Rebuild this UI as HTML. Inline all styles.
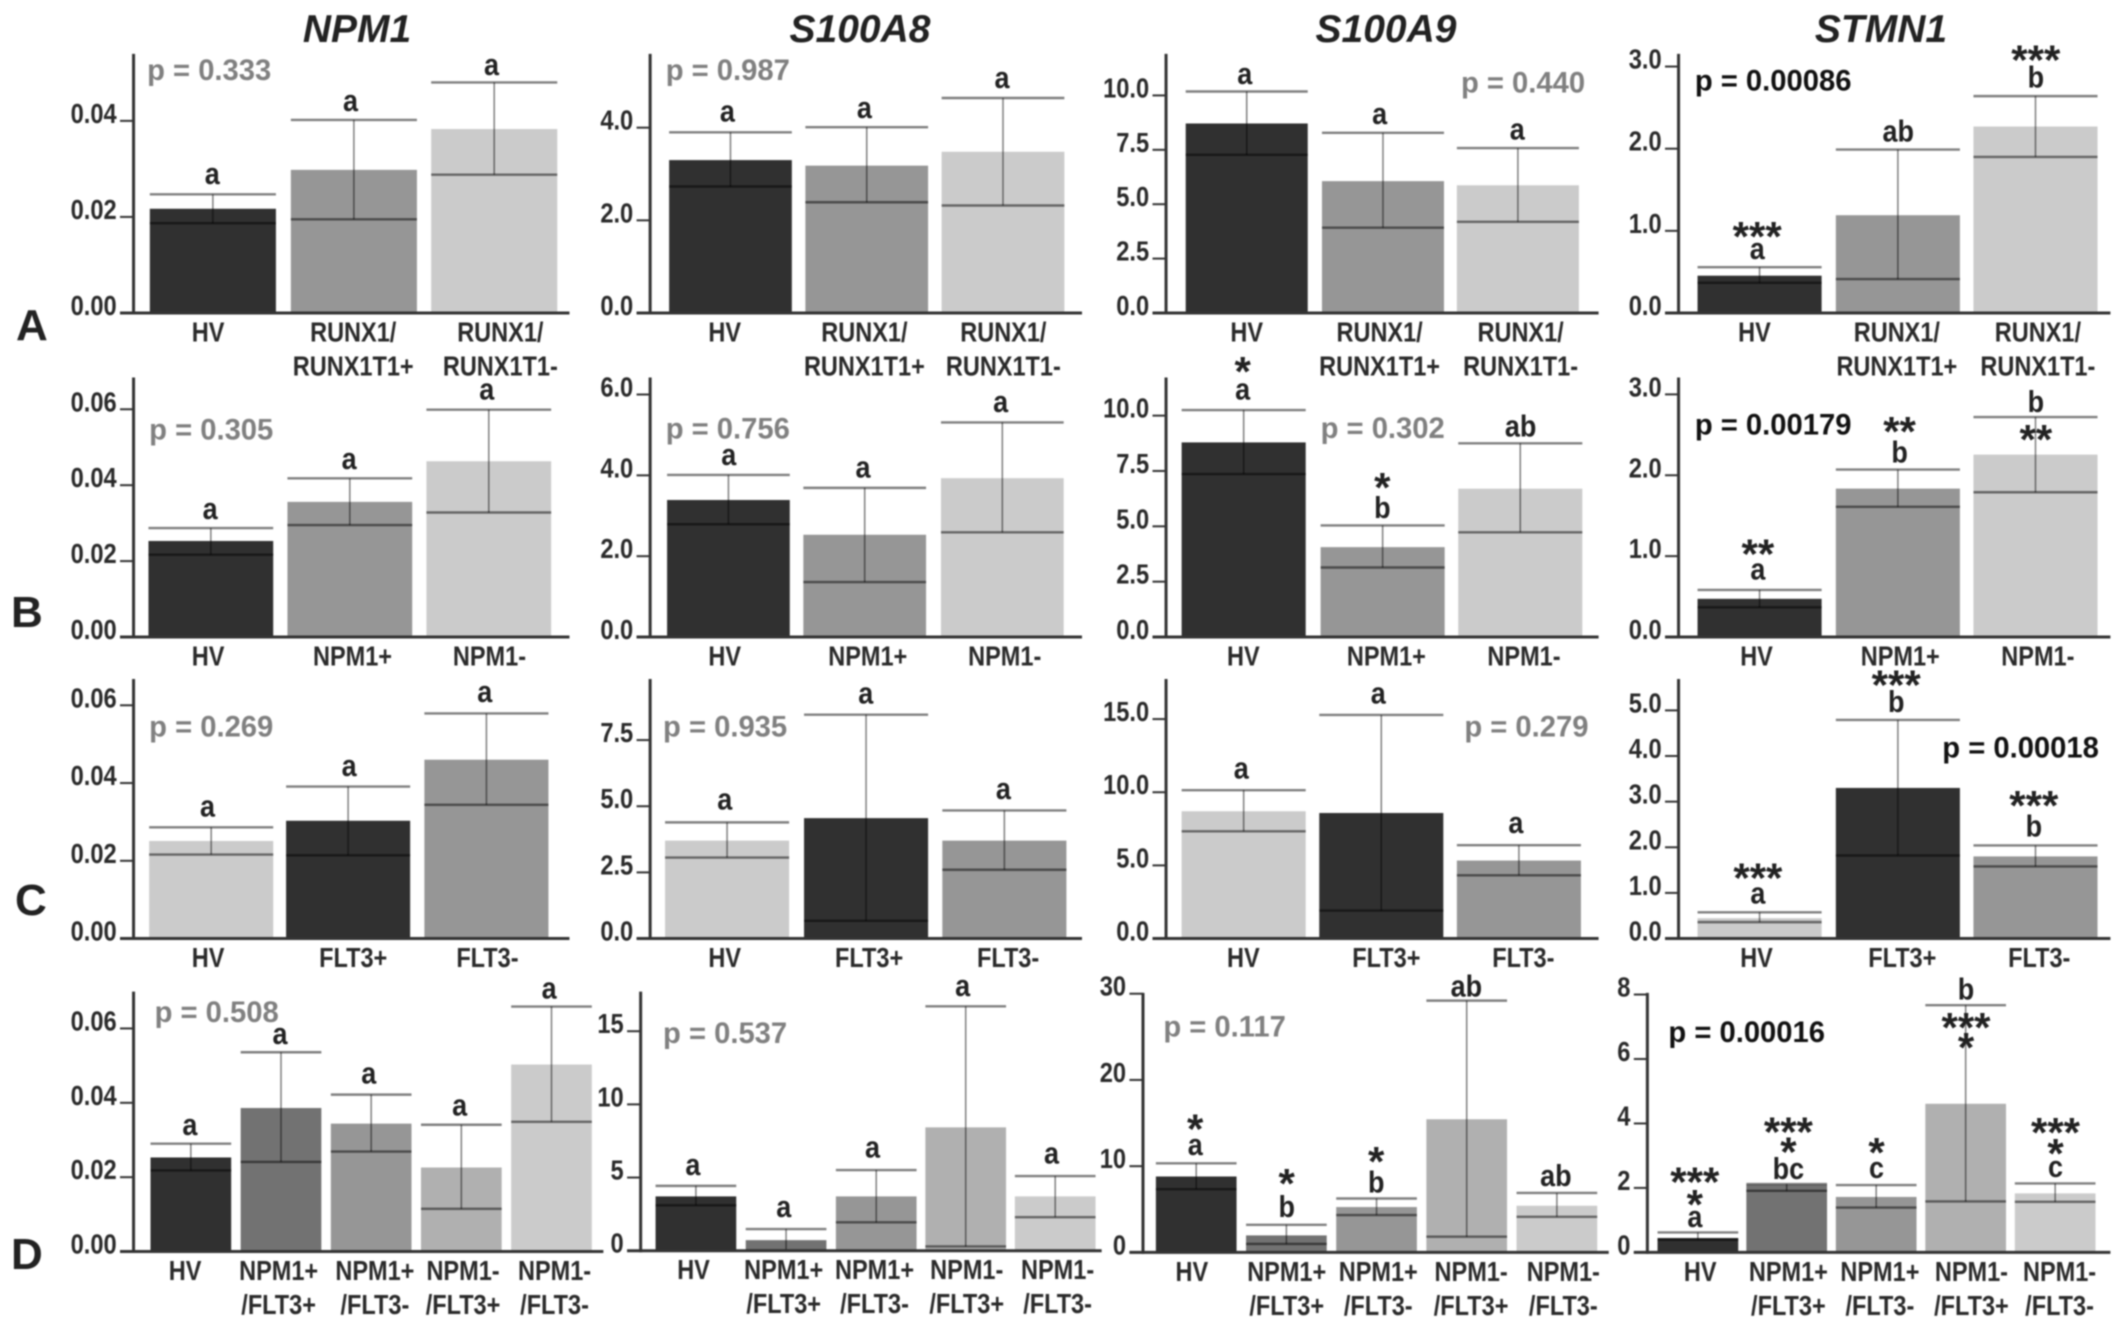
<!DOCTYPE html>
<html lang="en">
<head>
<meta charset="utf-8">
<title>Gene expression bar charts</title>
<style>
html,body{margin:0;padding:0;background:#fff;}
#figure{display:block;width:2126px;height:1330px;background:#fff;filter:blur(0.7px);}
text{font-family:"Liberation Sans",Arial,sans-serif;font-weight:bold;}
</style>
</head>
<body>
<svg id="figure" xmlns="http://www.w3.org/2000/svg" width="2126" height="1330" viewBox="0 0 2126 1330">
  <rect x="0" y="0" width="2126" height="1330" fill="#fff"/>
  <text x="357" y="42" font-size="39" font-style="italic" text-anchor="middle" fill="#222">NPM1</text>
  <text x="860" y="42" font-size="39" font-style="italic" text-anchor="middle" fill="#222">S100A8</text>
  <text x="1386" y="42" font-size="39" font-style="italic" text-anchor="middle" fill="#222">S100A9</text>
  <text x="1881" y="42" font-size="39" font-style="italic" text-anchor="middle" fill="#222">STMN1</text>
  <text x="16" y="340" font-size="44" fill="#222">A</text>
  <text x="11" y="627" font-size="44" fill="#222">B</text>
  <text x="15" y="915" font-size="44" fill="#222">C</text>
  <text x="11" y="1269" font-size="44" fill="#222">D</text>
</svg>
<script>
// ---- categories ----
const catsA = ['HV', 'RUNX1/|RUNX1T1+', 'RUNX1/|RUNX1T1-'];
const catsB = ['HV', 'NPM1+', 'NPM1-'];
const catsC = ['HV', 'FLT3+', 'FLT3-'];
const catsD = ['HV', 'NPM1+|/FLT3+', 'NPM1+|/FLT3-', 'NPM1-|/FLT3+', 'NPM1-|/FLT3-'];

// ---- row A ----
const npm1A_means = [0.0217, 0.0298, 0.0383];
const npm1A_upper = [0.0247, 0.0402, 0.0480];
const npm1A_lower = [0.0187, 0.0195, 0.0288];
const npm1A_ticks = [0, 0.02, 0.04];
const npm1A_tickLabels = ['0.00', '0.02', '0.04'];
const npm1A_letters = ['a', 'a', 'a'];
const npm1A_stars = [[], [], []];

const s100a8A_means = [3.30, 3.18, 3.48];
const s100a8A_upper = [3.90, 4.01, 4.64];
const s100a8A_lower = [2.73, 2.39, 2.32];
const s100a8A_ticks = [0, 2, 4];
const s100a8A_tickLabels = ['0.0', '2.0', '4.0'];
const s100a8A_letters = ['a', 'a', 'a'];
const s100a8A_stars = [[], [], []];

const s100a9A_means = [8.71, 6.06, 5.87];
const s100a9A_upper = [10.18, 8.28, 7.58];
const s100a9A_lower = [7.27, 3.92, 4.19];
const s100a9A_ticks = [0, 2.5, 5, 7.5, 10];
const s100a9A_tickLabels = ['0.0', '2.5', '5.0', '7.5', '10.0'];
const s100a9A_letters = ['a', 'a', 'a'];
const s100a9A_stars = [[], [], []];

const stmn1A_means = [0.454, 1.19, 2.27];
const stmn1A_upper = [0.558, 1.99, 2.64];
const stmn1A_lower = [0.367, 0.413, 1.90];
const stmn1A_ticks = [0, 1, 2, 3];
const stmn1A_tickLabels = ['0.0', '1.0', '2.0', '3.0'];
const stmn1A_letters = ['a', 'ab', 'b'];
const stmn1A_stars = [['***'], [], ['***']];

// ---- row B ----
const npm1B_means = [0.0253, 0.0356, 0.0463];
const npm1B_upper = [0.0287, 0.0418, 0.0599];
const npm1B_lower = [0.0217, 0.0295, 0.0328];
const npm1B_ticks = [0, 0.02, 0.04, 0.06];
const npm1B_tickLabels = ['0.00', '0.02', '0.04', '0.06'];
const npm1B_letters = ['a', 'a', 'a'];
const npm1B_stars = [[], [], []];

const s100a8B_means = [3.39, 2.53, 3.93];
const s100a8B_upper = [4.01, 3.69, 5.31];
const s100a8B_lower = [2.79, 1.36, 2.59];
const s100a8B_ticks = [0, 2, 4, 6];
const s100a8B_tickLabels = ['0.0', '2.0', '4.0', '6.0'];
const s100a8B_letters = ['a', 'a', 'a'];
const s100a8B_stars = [[], [], []];

const s100a9B_means = [8.79, 4.06, 6.70];
const s100a9B_upper = [10.25, 5.04, 8.75];
const s100a9B_lower = [7.36, 3.14, 4.73];
const s100a9B_ticks = [0, 2.5, 5, 7.5, 10];
const s100a9B_tickLabels = ['0.0', '2.5', '5.0', '7.5', '10.0'];
const s100a9B_letters = ['a', 'b', 'ab'];
const s100a9B_stars = [['*'], ['*'], []];

const stmn1B_means = [0.472, 1.835, 2.255];
const stmn1B_upper = [0.582, 2.07, 2.72];
const stmn1B_lower = [0.367, 1.61, 1.79];
const stmn1B_ticks = [0, 1, 2, 3];
const stmn1B_tickLabels = ['0.0', '1.0', '2.0', '3.0'];
const stmn1B_letters = ['a', 'b', 'b'];
const stmn1B_stars = [['**'], ['**'], ['**']];

// ---- row C ----
const npm1C_means = [0.0251, 0.0303, 0.0460];
const npm1C_upper = [0.0286, 0.0391, 0.0579];
const npm1C_lower = [0.0216, 0.0214, 0.0344];
const npm1C_ticks = [0, 0.02, 0.04, 0.06];
const npm1C_tickLabels = ['0.00', '0.02', '0.04', '0.06'];
const npm1C_letters = ['a', 'a', 'a'];
const npm1C_stars = [[], [], []];

const s100a8C_means = [3.70, 4.55, 3.70];
const s100a8C_upper = [4.39, 8.46, 4.84];
const s100a8C_lower = [3.06, 0.67, 2.60];
const s100a8C_ticks = [0, 2.5, 5, 7.5];
const s100a8C_tickLabels = ['0.0', '2.5', '5.0', '7.5'];
const s100a8C_letters = ['a', 'a', 'a'];
const s100a8C_stars = [[], [], []];

const s100a9C_means = [8.70, 8.58, 5.33];
const s100a9C_upper = [10.14, 15.28, 6.38];
const s100a9C_lower = [7.33, 1.91, 4.32];
const s100a9C_ticks = [0, 5, 10, 15];
const s100a9C_tickLabels = ['0.0', '5.0', '10.0', '15.0'];
const s100a9C_letters = ['a', 'a', 'a'];
const s100a9C_stars = [[], [], []];

const stmn1C_means = [0.446, 3.30, 1.80];
const stmn1C_upper = [0.576, 4.79, 2.04];
const stmn1C_lower = [0.36, 1.82, 1.58];
const stmn1C_ticks = [0, 1, 2, 3, 4, 5];
const stmn1C_tickLabels = ['0.0', '1.0', '2.0', '3.0', '4.0', '5.0'];
const stmn1C_letters = ['a', 'b', 'b'];
const stmn1C_stars = [['***'], ['***'], ['***']];

// ---- row D ----
const npm1D_means = [0.0253, 0.0386, 0.0344, 0.0226, 0.0503];
const npm1D_upper = [0.0290, 0.0536, 0.0422, 0.0341, 0.0659];
const npm1D_lower = [0.0218, 0.0241, 0.0269, 0.0115, 0.0349];
const npm1D_ticks = [0, 0.02, 0.04, 0.06];
const npm1D_tickLabels = ['0.00', '0.02', '0.04', '0.06'];
const npm1D_letters = ['a', 'a', 'a', 'a', 'a'];
const npm1D_stars = [[], [], [], [], []];

const s100a8D_means = [3.71, 0.72, 3.71, 8.43, 3.71];
const s100a8D_upper = [4.43, 1.48, 5.51, 16.7, 5.10];
const s100a8D_lower = [3.10, 0.02, 1.94, 0.29, 2.29];
const s100a8D_ticks = [0, 5, 10, 15];
const s100a8D_tickLabels = ['0', '5', '10', '15'];
const s100a8D_letters = ['a', 'a', 'a', 'a', 'a'];
const s100a8D_stars = [[], [], [], [], []];

const s100a9D_means = [8.80, 1.97, 5.26, 15.44, 5.41];
const s100a9D_upper = [10.33, 3.20, 6.25, 29.2, 6.89];
const s100a9D_lower = [7.33, 0.98, 4.33, 1.82, 4.13];
const s100a9D_ticks = [0, 10, 20, 30];
const s100a9D_tickLabels = ['0', '10', '20', '30'];
const s100a9D_letters = ['a', 'b', 'b', 'ab', 'ab'];
const s100a9D_stars = [['*'], ['*'], ['*'], [], []];

const stmn1D_means = [0.447, 2.10, 1.72, 4.61, 1.83];
const stmn1D_upper = [0.618, 2.12, 2.09, 7.67, 2.14];
const stmn1D_lower = [0.39, 1.91, 1.39, 1.58, 1.57];
const stmn1D_ticks = [0, 2, 4, 6, 8];
const stmn1D_tickLabels = ['0', '2', '4', '6', '8'];
const stmn1D_letters = ['a', 'bc', 'c', 'b', 'c'];
const stmn1D_stars = [['***', '*'], ['***', '*'], ['*'], ['***', '*'], ['***', '*']];

// ---- layout (measured in crop units, converted below) ----
const KX = 1063 / 1568, KY = 665 / 1568, QW = 1063, QH = 665;
const DARK = '#303030', MID = '#969696', LIGHT = '#cbcbcb', DMID = '#727272', LMID = '#b0b0b0';
const shadesAB = [DARK, MID, LIGHT];
const shadesC = [LIGHT, DARK, MID];
const shadesD = [DARK, DMID, MID, LMID, LIGHT];

const panels = [
  {id:'npm1-a', qx:0, qy:0, ax:197, end:840, y0:738, top:127, unit:11325, barL:[221,429,636], barW:186, cats:catsA, shades:shadesAB,
   means:npm1A_means, upper:npm1A_upper, lower:npm1A_lower, ticks:npm1A_ticks, tickLabels:npm1A_tickLabels, letters:npm1A_letters, stars:npm1A_stars,
   catX:[307,521,738], letX:[313,517,725], letDy:[-43,-40,-37], starDy:[[],[],[]], p:'p = 0.333', sig:false, pX:217, pY:167},
  {id:'s100a8-a', qx:0, qy:0, ax:959, end:1596, y0:738, top:127, unit:109.25, barL:[987,1188,1389], barW:181, cats:catsA, shades:shadesAB,
   means:s100a8A_means, upper:s100a8A_upper, lower:s100a8A_lower, ticks:s100a8A_ticks, tickLabels:s100a8A_tickLabels, letters:s100a8A_letters, stars:s100a8A_stars,
   catX:[1069,1275,1480], letX:[1073,1275,1478], letDy:[-44,-40,-43], starDy:[[],[],[]], p:'p = 0.987', sig:false, pX:982, pY:167},
  {id:'s100a9-a', qx:1, qy:0, ax:152, end:790, y0:738, top:127, unit:51.3, barL:[181,382,581], barW:180, cats:catsA, shades:shadesAB,
   means:s100a9A_means, upper:s100a9A_upper, lower:s100a9A_lower, ticks:s100a9A_ticks, tickLabels:s100a9A_tickLabels, letters:s100a9A_letters, stars:s100a9A_stars,
   catX:[271,467,675], letX:[268,467,670], letDy:[-36,-40,-39], starDy:[[],[],[]], p:'p = 0.440', sig:false, pX:587, pY:197},
  {id:'stmn1-a', qx:1, qy:0, ax:908, end:1545, y0:738, top:127, unit:193.7, barL:[936,1140,1343], barW:183, cats:catsA, shades:shadesAB,
   means:stmn1A_means, upper:stmn1A_upper, lower:stmn1A_lower, ticks:stmn1A_ticks, tickLabels:stmn1A_tickLabels, letters:stmn1A_letters, stars:stmn1A_stars,
   catX:[1020,1230,1438], letX:[1024,1232,1435], letDy:[-38,-43,-44], starDy:[[-87],[],[-99]], p:'p = 0.00086', sig:true, pX:932, pY:192},

  {id:'npm1-b', qx:0, qy:0, ax:197, end:840, y0:1502, top:890, unit:8950, barL:[219,424,629], barW:184, cats:catsB, shades:shadesAB,
   means:npm1B_means, upper:npm1B_upper, lower:npm1B_lower, ticks:npm1B_ticks, tickLabels:npm1B_tickLabels, letters:npm1B_letters, stars:npm1B_stars,
   catX:[307,520,722], letX:[310,515,718], letDy:[-40,-41,-43], starDy:[[],[],[]], p:'p = 0.305', sig:false, pX:220, pY:1015},
  {id:'s100a8-b', qx:0, qy:0, ax:959, end:1596, y0:1502, top:890, unit:95.3, barL:[984,1185,1388], barW:181, cats:catsB, shades:shadesAB,
   means:s100a8B_means, upper:s100a8B_upper, lower:s100a8B_lower, ticks:s100a8B_ticks, tickLabels:s100a8B_tickLabels, letters:s100a8B_letters, stars:s100a8B_stars,
   catX:[1069,1280,1482], letX:[1075,1273,1476], letDy:[-42,-43,-43], starDy:[[],[],[]], p:'p = 0.756', sig:false, pX:982, pY:1013},
  {id:'s100a9-b', qx:1, qy:0, ax:152, end:790, y0:1502, top:890, unit:52.2, barL:[175,380,583], barW:183, cats:catsB, shades:shadesAB,
   means:s100a9B_means, upper:s100a9B_upper, lower:s100a9B_lower, ticks:s100a9B_ticks, tickLabels:s100a9B_tickLabels, letters:s100a9B_letters, stars:s100a9B_stars,
   catX:[266,477,680], letX:[265,471,675], letDy:[-44,-41,-40], starDy:[[-105],[-104],[]], p:'p = 0.302', sig:false, pX:380, pY:1012},
  {id:'stmn1-b', qx:1, qy:0, ax:908, end:1545, y0:1502, top:890, unit:190.7, barL:[936,1140,1343], barW:183, cats:catsB, shades:shadesAB,
   means:stmn1B_means, upper:stmn1B_upper, lower:stmn1B_lower, ticks:stmn1B_ticks, tickLabels:stmn1B_tickLabels, letters:stmn1B_letters, stars:stmn1B_stars,
   catX:[1023,1235,1438], letX:[1025,1234,1435], letDy:[-43,-40,-36], starDy:[[-99],[-104],[39]], p:'p = 0.00179', sig:true, pX:932, pY:1003},

  {id:'npm1-c', qx:0, qy:1, ax:197, end:840, y0:645, top:33, unit:9167, barL:[220,422,626], barW:183, cats:catsC, shades:shadesC,
   means:npm1C_means, upper:npm1C_upper, lower:npm1C_lower, ticks:npm1C_ticks, tickLabels:npm1C_tickLabels, letters:npm1C_letters, stars:npm1C_stars,
   catX:[307,521,719], letX:[306,515,715], letDy:[-45,-44,-46], starDy:[[],[],[]], p:'p = 0.269', sig:false, pX:220, pY:147},
  {id:'s100a8-c', qx:0, qy:1, ax:959, end:1596, y0:645, top:33, unit:62.4, barL:[981,1186,1390], barW:183, cats:catsC, shades:shadesC,
   means:s100a8C_means, upper:s100a8C_upper, lower:s100a8C_lower, ticks:s100a8C_ticks, tickLabels:s100a8C_tickLabels, letters:s100a8C_letters, stars:s100a8C_stars,
   catX:[1069,1282,1487], letX:[1069,1277,1480], letDy:[-49,-45,-46], starDy:[[],[],[]], p:'p = 0.935', sig:false, pX:978, pY:147},
  {id:'s100a9-c', qx:1, qy:1, ax:152, end:790, y0:645, top:33, unit:34.5, barL:[175,378,581], barW:183, cats:catsC, shades:shadesC,
   means:s100a9C_means, upper:s100a9C_upper, lower:s100a9C_lower, ticks:s100a9C_ticks, tickLabels:s100a9C_tickLabels, letters:s100a9C_letters, stars:s100a9C_stars,
   catX:[266,477,679], letX:[263,465,668], letDy:[-47,-46,-48], starDy:[[],[],[]], p:'p = 0.279', sig:false, pX:592, pY:147},
  {id:'stmn1-c', qx:1, qy:1, ax:908, end:1545, y0:645, top:33, unit:107.6, barL:[936,1140,1343], barW:183, cats:catsC, shades:shadesC,
   means:stmn1C_means, upper:stmn1C_upper, lower:stmn1C_lower, ticks:stmn1C_ticks, tickLabels:stmn1C_tickLabels, letters:stmn1C_letters, stars:stmn1C_stars,
   catX:[1023,1238,1440], letX:[1025,1229,1432], letDy:[-40,-42,-45], starDy:[[-95],[-97],[-108]], p:'p = 0.00018', sig:true, pX:1297, pY:197},

  {id:'npm1-d', qx:0, qy:1, ax:197, end:890, y0:1383, top:770, unit:8767, barL:[222,355,488,621,754], barW:119, cats:catsD, shades:shadesD,
   means:npm1D_means, upper:npm1D_upper, lower:npm1D_lower, ticks:npm1D_ticks, tickLabels:npm1D_tickLabels, letters:npm1D_letters, stars:npm1D_stars,
   catX:[273,411,553,683,818], letX:[280,413,544,678,810], letDy:[-39,-38,-45,-41,-38], starDy:[[],[],[],[],[]], p:'p = 0.508', sig:false, pX:228, pY:820},
  {id:'s100a8-d', qx:0, qy:1, ax:945, end:1625, y0:1381, top:770, unit:34.5, barL:[967,1100,1233,1365,1497], barW:119, cats:catsD, shades:shadesD,
   means:s100a8D_means, upper:s100a8D_upper, lower:s100a8D_lower, ticks:s100a8D_ticks, tickLabels:s100a8D_tickLabels, letters:s100a8D_letters, stars:s100a8D_stars,
   catX:[1023,1156,1290,1426,1560], letX:[1022,1156,1287,1420,1551], letDy:[-45,-47,-48,-43,-48], starDy:[[],[],[],[],[]], p:'p = 0.537', sig:false, pX:978, pY:870},
  {id:'s100a9-d', qx:1, qy:1, ax:118, end:805, y0:1385, top:773, unit:20.33, barL:[137,270,403,536,669], barW:119, cats:catsD, shades:shadesD,
   means:s100a9D_means, upper:s100a9D_upper, lower:s100a9D_lower, ticks:s100a9D_ticks, tickLabels:s100a9D_tickLabels, letters:s100a9D_letters, stars:s100a9D_stars,
   catX:[190,330,465,602,738], letX:[195,330,462,595,727], letDy:[-38,-42,-38,-33,-40], starDy:[[-95],[-112],[-101],[],[]], p:'p = 0.117', sig:false, pX:148, pY:855},
  {id:'stmn1-d', qx:1, qy:1, ax:862, end:1545, y0:1385, top:773, unit:76, barL:[877,1008,1140,1272,1404], barW:119, cats:catsD, shades:shadesD,
   means:stmn1D_means, upper:stmn1D_upper, lower:stmn1D_lower, ticks:stmn1D_ticks, tickLabels:stmn1D_tickLabels, letters:stmn1D_letters, stars:stmn1D_stars,
   catX:[940,1070,1205,1340,1470], letX:[932,1070,1200,1332,1464], letDy:[-32,-35,-36,-37,-34], starDy:[[-133,-80],[-137,-90],[-91],[38,86],[-134,-85]], p:'p = 0.00016', sig:true, pX:893, pY:868}
];

const NS = 'http://www.w3.org/2000/svg';
const svg = document.getElementById('figure');

function mk(parent, tag, attrs, content) {
  const node = document.createElementNS(NS, tag);
  for (const k in attrs) node.setAttribute(k, attrs[k]);
  if (content !== undefined) node.textContent = content;
  parent.appendChild(node);
  return node;
}

// condensed text placed at (x, baseline y)
function squeezed(x, y, sx) {
  return 'translate(' + x + ' ' + y + ') scale(' + sx + ' 1)';
}

panels.forEach(function (p) {
  const offX = p.qx * QW, offY = p.qy * QH;
  const xPx = function (z) { return offX + z * KX; };
  const yCrop = function (z) { return offY + z * KY; };
  const yVal = function (v) { return offY + (p.y0 - v * p.unit) * KY; };

  const g = mk(svg, 'g', {});
  
  

  p.means.forEach(function (m, i) {
    const bx = xPx(p.barL[i]), bw = p.barW * KX, cx = bx + bw / 2;
    const bar = mk(g, 'rect', {x: bx, y: yVal(m), width: bw, height: yVal(0) - yVal(m), fill: p.shades[i]});
    
    

    const whisker = mk(g, 'line', {x1: cx, x2: cx, y1: yVal(p.upper[i]), y2: yVal(p.lower[i]), stroke: '#000', 'stroke-opacity': 0.5, 'stroke-width': 1.5});
    
    

    const capHi = mk(g, 'line', {x1: bx, x2: bx + bw, y1: yVal(p.upper[i]), y2: yVal(p.upper[i]), stroke: '#000', 'stroke-opacity': 0.5, 'stroke-width': 2.4});
    
    

    const capLo = mk(g, 'line', {x1: bx, x2: bx + bw, y1: yVal(p.lower[i]), y2: yVal(p.lower[i]), stroke: '#000', 'stroke-opacity': 0.5, 'stroke-width': 2.4});
    
    

    const hi = p.upper[i];
    const letter = p.letters[i];
    const letterBase = yVal(hi) + p.letDy[i] * KY + (letter.indexOf('b') >= 0 ? 10 : 8);
    const letEl = mk(g, 'text', {transform: squeezed(xPx(p.letX[i]), letterBase, 0.87), 'font-size': 31, 'text-anchor': 'middle', fill: '#222'}, letter);
    
    

    p.stars[i].forEach(function (s, j) {
      const starEl = mk(g, 'text', {x: xPx(p.letX[i]), y: yVal(hi) + p.starDy[i][j] * KY + 20.5, 'font-size': 42, 'text-anchor': 'middle', fill: '#222'}, s);
      
      
    });

    p.cats[i].split('|').forEach(function (line, j) {
      const catEl = mk(g, 'text', {transform: squeezed(xPx(p.catX[i]), yVal(0) + 28.5 + j * 34, 0.84), 'font-size': 28, 'text-anchor': 'middle', fill: '#2a2a2a'}, line);
      
      
    });
  });

  const yAxis = mk(g, 'line', {x1: xPx(p.ax), x2: xPx(p.ax), y1: yCrop(p.top), y2: yVal(0) + 1.5, stroke: '#333', 'stroke-width': 3});
  
  

  const xAxis = mk(g, 'line', {x1: xPx(p.ax - 20), x2: xPx(p.end), y1: yVal(0), y2: yVal(0), stroke: '#333', 'stroke-width': 3});
  
  

  p.ticks.forEach(function (t, i) {
    const tick = mk(g, 'line', {x1: xPx(p.ax - 20), x2: xPx(p.ax), y1: yVal(t), y2: yVal(t), stroke: '#333', 'stroke-width': 2});
    
    

    const lab = mk(g, 'text', {transform: squeezed(xPx(p.ax - 25), yVal(t) + 2, 0.86), 'font-size': 27.5, 'text-anchor': 'end', fill: '#2a2a2a'}, p.tickLabels[i]);
    
    
  });

  const pEl = mk(g, 'text', {x: xPx(p.pX), y: yCrop(p.pY) + 9, 'font-size': 29.2, fill: p.sig ? '#111' : '#808080'}, p.p);
  
  
});
</script>
</body>
</html>
